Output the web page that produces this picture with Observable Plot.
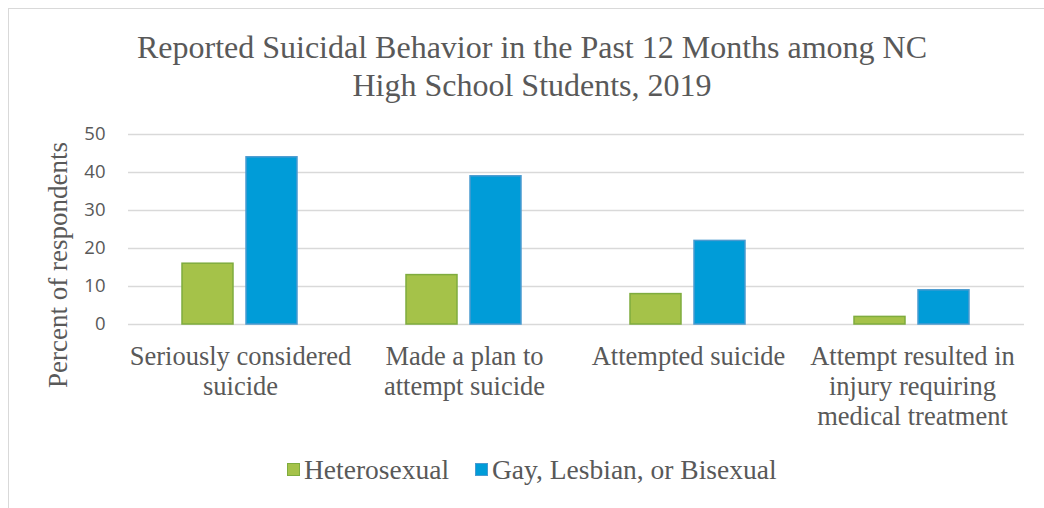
<!DOCTYPE html>
<html>
<head>
<meta charset="utf-8">
<script src="https://cdn.jsdelivr.net/npm/d3@7"></script>
<script src="https://cdn.jsdelivr.net/npm/@observablehq/plot@0.6"></script>
<style>
  html, body { margin: 0; padding: 0; background: #fff; }
  body { width: 1044px; height: 508px; position: relative; overflow: hidden; }
  #frame { position: absolute; left: 8px; top: 8px; width: 1100px; height: 600px;
           border-top: 1.5px solid #d9d9d9; border-left: 1.5px solid #d9d9d9; }
  #title { position: absolute; left: 32px; width: 1000px; top: 28px; text-align: center;
           font-family: "Liberation Serif", "Times New Roman", serif; font-size: 32px;
           line-height: 38px; color: #595959; }
  #ylabel { position: absolute; left: 58px; top: 265px; transform: translate(-50%, -50%) rotate(-90deg);
            white-space: nowrap; font-family: "Liberation Serif", serif; font-size: 27px; color: #595959; }
  #chart { position: absolute; left: 0; top: 110px; }
  #legend { position: absolute; top: 453px; left: 0; width: 1044px; height: 34px;
            font-family: "Liberation Serif", serif; font-size: 27.5px; color: #595959; }
  .item { position: absolute; top: 0; height: 34px; line-height: 34px; white-space: nowrap; }
  .sw { position: absolute; width: 11px; height: 11px; top: 10px; }
</style>
</head>
<body>
<div id="frame"></div>
<div id="title">Reported Suicidal Behavior in the Past 12 Months among NC<br>High School Students, 2019</div>
<div id="ylabel">Percent of respondents</div>
<div id="chart"></div>
<div id="legend"></div>
<script>
// ---- data ----
const categories = [
  "Seriously considered suicide",
  "Made a plan to attempt suicide",
  "Attempted suicide",
  "Attempt resulted in injury requiring medical treatment"
];
const categoryLabels = [
  "Seriously considered\nsuicide",
  "Made a plan to\nattempt suicide",
  "Attempted suicide",
  "Attempt resulted in\ninjury requiring\nmedical treatment"
];
const seriesNames = ["Heterosexual", "Gay, Lesbian, or Bisexual"];
const heteroValues = [16, 13, 8, 2];
const glbValues = [44, 39, 22, 9];
const yTicks = [0, 10, 20, 30, 40, 50];

const seriesFill = ["#A5C249", "#009CD8"];
const seriesStroke = ["#7FAC3E", "#4A9AD0"];

const rows = [];
categories.forEach((c, i) => {
  rows.push({category: c, series: seriesNames[0], value: heteroValues[i]});
  rows.push({category: c, series: seriesNames[1], value: glbValues[i]});
});
const labelRows = categories.map((c, i) => ({category: c, label: categoryLabels[i]}));

const serif = "'Liberation Serif', 'Times New Roman', serif";
const sans = "'Open Sans', 'Liberation Sans', sans-serif";

const chart = Plot.plot({
  width: 1044,
  height: 330,
  marginLeft: 127,
  marginRight: 19,
  marginTop: 24,
  marginBottom: 116,
  style: {color: "#595959", background: "transparent", overflow: "visible"},
  fx: {domain: categories, padding: 0, axis: null},
  x: {domain: seriesNames, paddingInner: 0.2, paddingOuter: 0.83, axis: null},
  y: {domain: [0, 50], axis: null},
  marks: [
    Plot.gridY(yTicks, {stroke: "#d9d9d9", strokeOpacity: 1, strokeWidth: 1.5}),
    Plot.axisY(yTicks, {tickSize: 0, tickPadding: 23, fontSize: 18.5, fontFamily: sans, fill: "#595959", label: null}),
    Plot.barY(rows.filter(d => d.series === seriesNames[0]), {
      fx: "category", x: "series", y: "value",
      fill: seriesFill[0], stroke: seriesStroke[0], strokeWidth: 1.5
    }),
    Plot.barY(rows.filter(d => d.series === seriesNames[1]), {
      fx: "category", x: "series", y: "value",
      fill: seriesFill[1], stroke: seriesStroke[1], strokeWidth: 1.5
    }),
    Plot.text(labelRows, {
      fx: "category", text: "label", frameAnchor: "bottom", lineAnchor: "top",
      dy: 19, fontSize: 26.5, lineHeight: 30 / 26.5, fontFamily: serif, fill: "#595959"
    })
  ]
});
document.getElementById("chart").appendChild(chart);

// legend
const legend = document.getElementById("legend");
const positions = [[287, 304], [475, 492]];
seriesNames.forEach((s, i) => {
  const sw = document.createElement("div");
  sw.className = "sw";
  sw.style.left = positions[i][0] + "px";
  sw.style.background = seriesFill[i];
  sw.style.border = "1.5px solid " + seriesStroke[i];
  legend.appendChild(sw);
  const t = document.createElement("div");
  t.className = "item";
  t.style.left = positions[i][1] + "px";
  t.textContent = s;
  legend.appendChild(t);
});
</script>
</body>
</html>
